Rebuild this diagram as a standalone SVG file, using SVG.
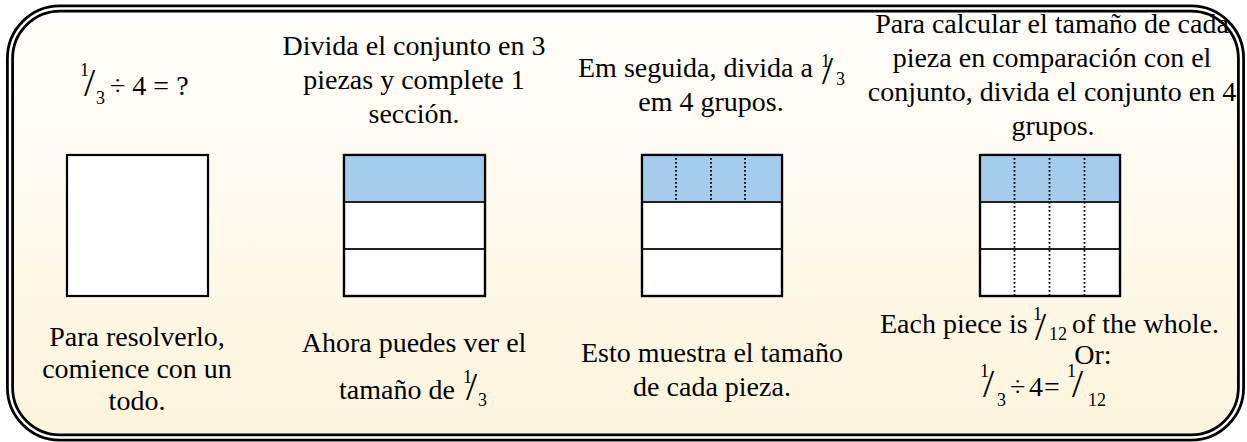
<svg xmlns="http://www.w3.org/2000/svg" width="1247" height="442" viewBox="0 0 1247 442" font-family="'Liberation Serif', Tinos, 'Times New Roman', serif">
<defs>
<linearGradient id="bg" x1="0" y1="0" x2="0" y2="1">
<stop offset="0" stop-color="#fffefb"/>
<stop offset="1" stop-color="#fdf4dc"/>
</linearGradient>
<style>
text{font-family:'Liberation Serif', Tinos, 'Times New Roman', serif;font-size:28px;fill:#000}
.m{text-anchor:middle}
.s{font-size:18px}
.sl{font-size:40px}
.box{fill:#fff;stroke:#000;stroke-width:2.2}
.blue{fill:#a4cbea}
.div{stroke:#222;stroke-width:1.8;fill:none}
.dot{stroke:#000;stroke-width:1.8;stroke-dasharray:1.8 2.2;fill:none}
</style>
</defs>
<rect width="1247" height="442" fill="#fff"/>
<g id="frame">
<rect x="10" y="8.5" width="1231" height="429" rx="50" ry="50" fill="url(#bg)" stroke="#000" stroke-width="8"/>
<rect x="10" y="8.5" width="1231" height="429" rx="50" ry="50" fill="none" stroke="#fff" stroke-width="2.4"/>
</g>
<g id="step1">
<text><tspan class="s" x="80" y="76">1</tspan><tspan class="sl" x="84" y="96">/</tspan><tspan class="s" x="96" y="104">3</tspan><tspan x="110" y="95">÷ 4 = ?</tspan></text>
<rect class="box" x="67" y="155" width="141" height="141"/>
<text class="m" x="137" y="346">Para resolverlo,</text>
<text class="m" x="137" y="378">comience con un</text>
<text class="m" x="137" y="410">todo.</text>
</g>
<g id="step2">
<text class="m" x="414" y="55">Divida el conjunto en 3</text>
<text class="m" x="414" y="89">piezas y complete 1</text>
<text class="m" x="414" y="123">sección.</text>
<rect class="box" x="344" y="155" width="141" height="141"/>
<rect class="blue" x="345" y="156" width="139" height="46"/>
<line class="div" x1="344" y1="202" x2="485" y2="202"/>
<line class="div" x1="344" y1="249" x2="485" y2="249"/>
<rect x="344" y="155" width="141" height="141" fill="none" stroke="#000" stroke-width="2.2"/>
<text class="m" x="414" y="352">Ahora puedes ver el</text>
<text><tspan x="339" y="399">tamaño de</tspan><tspan class="s" x="463" y="383">1</tspan><tspan class="sl" x="466" y="399.5">/</tspan><tspan class="s" x="478" y="406">3</tspan></text>
</g>
<g id="step3">
<text><tspan x="578" y="77">Em seguida, divida a</tspan><tspan class="s" x="821" y="67">1</tspan><tspan class="sl" x="822" y="84">/</tspan><tspan class="s" x="836" y="85">3</tspan></text>
<text class="m" x="711" y="111">em 4 grupos.</text>
<rect class="box" x="642" y="155" width="140" height="141"/>
<rect class="blue" x="643" y="156" width="138" height="46"/>
<line class="div" x1="642" y1="202" x2="782" y2="202"/>
<line class="div" x1="642" y1="249" x2="782" y2="249"/>
<line class="dot" x1="676" y1="158" x2="676" y2="201"/>
<line class="dot" x1="711" y1="158" x2="711" y2="201"/>
<line class="dot" x1="745" y1="158" x2="745" y2="201"/>
<rect x="642" y="155" width="140" height="141" fill="none" stroke="#000" stroke-width="2.2"/>
<text class="m" x="712" y="362">Esto muestra el tamaño</text>
<text class="m" x="712" y="396">de cada pieza.</text>
</g>
<g id="step4">
<text class="m" x="1052" y="33">Para calcular el tamaño de cada</text>
<text class="m" x="1052" y="67">pieza en comparación con el</text>
<text class="m" x="1052" y="101">conjunto, divida el conjunto en 4</text>
<text class="m" x="1053" y="135">grupos.</text>
<rect class="box" x="980" y="155" width="140" height="141"/>
<rect class="blue" x="981" y="156" width="138" height="46"/>
<line class="div" x1="980" y1="202" x2="1120" y2="202"/>
<line class="div" x1="980" y1="249" x2="1120" y2="249"/>
<line class="dot" x1="1014.5" y1="158" x2="1014.5" y2="295"/>
<line class="dot" x1="1049.5" y1="158" x2="1049.5" y2="295"/>
<line class="dot" x1="1084.5" y1="158" x2="1084.5" y2="295"/>
<rect x="980" y="155" width="140" height="141" fill="none" stroke="#000" stroke-width="2.2"/>
<text><tspan x="880" y="333">Each piece is</tspan><tspan class="s" x="1033" y="320">1</tspan><tspan class="sl" x="1035" y="340">/</tspan><tspan class="s" x="1049" y="340">12</tspan><tspan x="1072" y="333">of the whole.</tspan></text>
<text class="m" x="1093" y="364">Or:</text>
<text><tspan class="s" x="980" y="377">1</tspan><tspan class="sl" x="983" y="397">/</tspan><tspan class="s" x="997" y="406">3</tspan><tspan x="1010" y="396">÷</tspan><tspan x="1029" y="396">4</tspan><tspan x="1044" y="396">=</tspan><tspan class="s" x="1067" y="377">1</tspan><tspan class="sl" x="1072" y="397">/</tspan><tspan class="s" x="1088" y="406">12</tspan></text>
</g>
</svg>
